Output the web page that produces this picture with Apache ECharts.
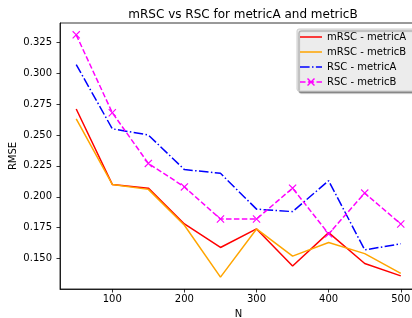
<!DOCTYPE html>
<html>
<head>
<meta charset="utf-8">
<script src="https://cdn.jsdelivr.net/npm/echarts@6/dist/echarts.min.js"></script>
<style>
  html, body { margin: 0; padding: 0; background: #fff; }
  #main { width: 412px; height: 318px; }
</style>
</head>
<body>
<div id="main"></div>
<script>
var nValues = [50, 100, 150, 200, 250, 300, 350, 400, 450, 500];
var xTicks = [100, 200, 300, 400, 500];
var yTicks = [0.150, 0.175, 0.200, 0.225, 0.250, 0.275, 0.300, 0.325];

var mrscA = [0.271, 0.210, 0.207, 0.178, 0.159, 0.174, 0.144, 0.171, 0.146, 0.136];
var mrscB = [0.263, 0.210, 0.206, 0.177, 0.135, 0.174, 0.152, 0.163, 0.154, 0.138];
var rscA  = [0.307, 0.255, 0.250, 0.222, 0.219, 0.190, 0.188, 0.213, 0.157, 0.162];
var rscB  = [0.331, 0.268, 0.227, 0.208, 0.182, 0.182, 0.207, 0.170, 0.203, 0.178];

function pairs(ys) {
    return nValues.map(function (n, i) { return [n, ys[i]]; });
}

var myChart = echarts.init(document.getElementById('main'));
var font = 'DejaVu Sans';
var xMark = 'path://M0,1L1,0L5,4L9,0L10,1L6,5L10,9L9,10L5,6L1,10L0,9L4,5Z';

// legend icons (22 x 10 box)
var iconSolid = 'path://M0,4.25H22V5.75H0Z';
var iconDashDot = 'path://M0,4.25H9.6V5.75H0Z M12,4.25H13.5V5.75H12Z M15.9,4.25H22V5.75H15.9Z';
var iconDashX = 'path://M0,4.25H5.5V5.75H0Z M7.9,4.25H14.1V5.75H7.9Z M16.5,4.25H22V5.75H16.5Z ' +
    'M7,2L8,1L11,4L14,1L15,2L12,5L15,8L14,9L11,6L8,9L7,8L10,5Z';

var option = {
    animation: false,
    title: {
        text: 'mRSC vs RSC for metricA and metricB',
        left: 238,
        textAlign: 'center',
        top: 4,
        textStyle: { fontFamily: font, fontSize: 12, fontWeight: 'normal', color: '#000' }
    },
    legend: {
        orient: 'vertical',
        left: 297,
        top: 29,
        itemWidth: 22,
        itemHeight: 10,
        itemGap: 5,
        padding: [3, 20, 4, 3],
        backgroundColor: '#ececec',
        borderColor: '#cccccc',
        borderWidth: 1,
        borderRadius: 2,
        shadowColor: 'rgba(0,0,0,0.4)',
        shadowOffsetX: 2,
        shadowOffsetY: 2,
        shadowBlur: 1,
        itemStyle: { borderWidth: 0 },
        textStyle: { fontFamily: font, fontSize: 10, color: '#000' },
        data: [
            { name: 'mRSC - metricA', icon: iconSolid },
            { name: 'mRSC - metricB', icon: iconSolid },
            { name: 'RSC - metricA', icon: iconDashDot },
            { name: 'RSC - metricB', icon: iconDashX }
        ]
    },
    grid: {
        left: 60, top: 23, width: 357, height: 266,
        outerBoundsMode: 'none',
        containLabel: false,
        show: true, borderColor: '#000', borderWidth: 0.8
    },
    xAxis: {
        type: 'value',
        min: 27.5,
        max: 522.5,
        name: 'N',
        nameLocation: 'middle',
        nameGap: 20,
        nameMoveOverlap: false,
        nameTextStyle: { fontFamily: font, fontSize: 10, color: '#000' },
        splitLine: { show: false },
        axisLine: { lineStyle: { color: '#000', width: 0.8 } },
        axisTick: { show: true, length: 3.5, customValues: xTicks, lineStyle: { color: '#000', width: 0.8 } },
        axisLabel: { customValues: xTicks, margin: 5, fontFamily: font, fontSize: 10, color: '#000' }
    },
    yAxis: {
        type: 'value',
        min: 0.1254,
        max: 0.3406,
        name: 'RMSE',
        nameLocation: 'middle',
        nameGap: 42,
        nameMoveOverlap: false,
        nameTextStyle: { fontFamily: font, fontSize: 10, color: '#000' },
        splitLine: { show: false },
        axisLine: { show: true, lineStyle: { color: '#000', width: 0.8 } },
        axisTick: { show: true, length: 3.5, customValues: yTicks, lineStyle: { color: '#000', width: 0.8 } },
        axisLabel: {
            customValues: yTicks, margin: 8, fontFamily: font, fontSize: 10, color: '#000',
            formatter: function (v) { return v.toFixed(3); }
        }
    },
    series: [
        {
            name: 'mRSC - metricA', type: 'line', data: pairs(mrscA),
            showSymbol: false, color: '#ff0000',
            lineStyle: { width: 1.5, color: '#ff0000' }
        },
        {
            name: 'mRSC - metricB', type: 'line', data: pairs(mrscB),
            showSymbol: false, color: '#ffa500',
            lineStyle: { width: 1.5, color: '#ffa500' }
        },
        {
            name: 'RSC - metricA', type: 'line', data: pairs(rscA),
            showSymbol: false, color: '#0000ff',
            lineStyle: { width: 1.5, color: '#0000ff', type: [9.6, 2.4, 1.5, 2.4] }
        },
        {
            name: 'RSC - metricB', type: 'line', data: pairs(rscB),
            symbol: xMark, symbolSize: 8, color: '#ff00ff',
            itemStyle: { color: '#ff00ff' },
            lineStyle: { width: 1.5, color: '#ff00ff', type: [5.5, 2.4] }
        }
    ]
};

myChart.setOption(option);
</script>
</body>
</html>
